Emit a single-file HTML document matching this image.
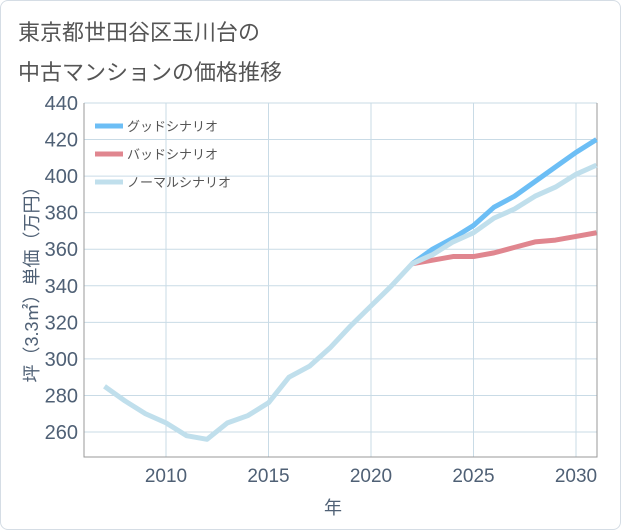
<!DOCTYPE html>
<html><head><meta charset="utf-8"><style>
body{margin:0;background:#fff}
#wrap{position:relative;width:619px;height:528px;border:1px solid #d5dde5;border-radius:8px;overflow:hidden;font-family:"Liberation Sans","Noto Sans CJK JP",sans-serif}
.t{position:absolute;left:17px;font-size:22px;color:#555;white-space:nowrap}
</style></head><body>
<div id="wrap">
<div class="t" style="top:14px">東京都世田谷区玉川台の</div>
<div class="t" style="top:54px">中古マンションの価格推移</div>
<svg id="c" width="621" height="530" style="position:absolute;left:-1px;top:-1px"></svg>
</div>
<script>
const years=[2007,2008,2009,2010,2011,2012,2013,2014,2015,2016,2017,2018,2019,2020,2021,2022,2023,2024,2025,2026,2027,2028,2029,2030,2031];
const normal=[285,277,270,265,258,256,265,269,276,290,296,306,318,329,340,352,357,364,369,377,382,389,394,401,406];
const fYears=[2022,2023,2024,2025,2026,2027,2028,2029,2030,2031];
const good=[352,360,366,373,383,389,397,405,413,420];
const bad=[352,354,356,356,358,361,364,365,367,369];
const yTicks=[260,280,300,320,340,360,380,400,420,440];
const xTicks=[2010,2015,2020,2025,2030];
const L=84,R=597,T=103,B=457;
const X=v=>166+(v-2010)*20.5;
const Y=v=>432-(v-260)*(329/180);
const svg=document.getElementById('c');
const NS='http://www.w3.org/2000/svg';
function mk(t,a){const e=document.createElementNS(NS,t);for(const k in a)e.setAttribute(k,a[k]);svg.appendChild(e);return e;}
yTicks.forEach(v=>{
 const g=mk('line',{x1:L,x2:R,y1:Y(v),y2:Y(v),stroke:'#c9dbe6','stroke-width':1});
 
 
 const t=mk('text',{x:78,y:Y(v)+7,'text-anchor':'end','font-size':20,fill:'#4f6075','font-family':'Liberation Sans, sans-serif'});
 t.textContent=v;
 
 
});
xTicks.forEach(v=>{
 const g=mk('line',{x1:X(v),x2:X(v),y1:T,y2:B,stroke:'#c9dbe6','stroke-width':1});
 
 
 const t=mk('text',{x:X(v),y:482,'text-anchor':'middle','font-size':19,fill:'#4f6075','font-family':'Liberation Sans, sans-serif'});
 t.textContent=v;
 
 
});
const fr=mk('path',{d:`M${L},${T}V${B}H${R}V${T}`,fill:'none',stroke:'#999','stroke-width':1});


function line(xs,ys,col,name){
 const p=mk('polyline',{points:xs.map((x,i)=>X(x)+','+Y(ys[i])).join(' '),fill:'none',stroke:col,'stroke-width':5,'stroke-linejoin':'round'});
 
 
}
line(fYears,bad,'#e0868f','bad-scenario-line');
line(fYears,good,'#6cbef5','good-scenario-line');
line(years,normal,'#c0dfec','normal-scenario-line');
const leg=[['グッドシナリオ','#6cbef5'],['バッドシナリオ','#e0868f'],['ノーマルシナリオ','#c0dfec']];
leg.forEach((l,i)=>{
 const y=126+i*28;
 const s=mk('line',{x1:95,x2:123,y1:y,y2:y,stroke:l[1],'stroke-width':5});
 
 
 const t=mk('text',{x:127,y:y+5,'font-size':13,fill:'#555','font-family':'Liberation Sans, Noto Sans CJK JP, sans-serif'});
 t.textContent=l[0];
 
 
});
const yt=mk('text',{x:0,y:0,'font-size':18,fill:'#4f6075','text-anchor':'middle',transform:'translate(38,280) rotate(-90)','font-family':'Liberation Sans, Noto Sans CJK JP, sans-serif'});
yt.textContent='坪（3.3㎡）単価（万円）';


const xt=mk('text',{x:333,y:514,'font-size':18,fill:'#4f6075','text-anchor':'middle','font-family':'Liberation Sans, Noto Sans CJK JP, sans-serif'});
xt.textContent='年';


</script>
</body></html>
